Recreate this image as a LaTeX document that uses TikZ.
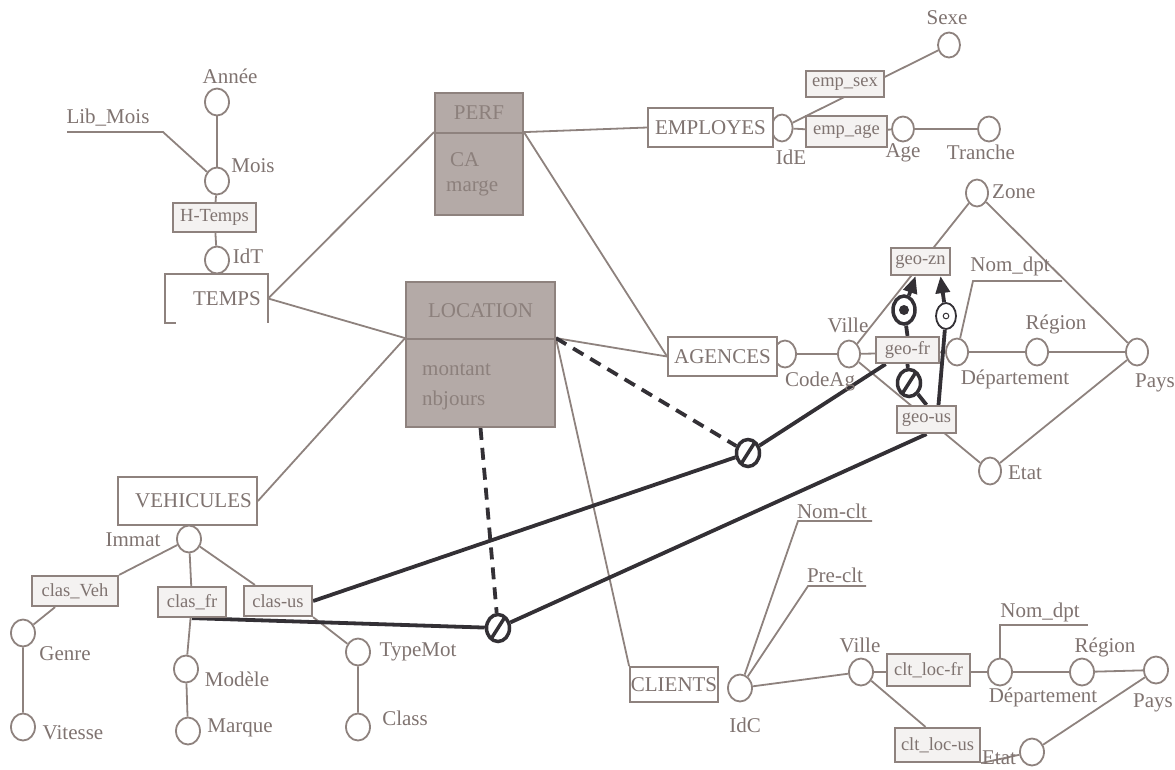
\documentclass[tikz,border=0pt]{standalone}
\usepackage{fontspec}
\setmainfont{Liberation Serif}
\usetikzlibrary{arrows.meta, backgrounds, shapes.geometric}
\definecolor{trait}{HTML}{8E827E}
\definecolor{texte}{HTML}{7F7370}
\definecolor{fait}{HTML}{B4AAA7}
\definecolor{faittxt}{HTML}{8C807C}
\definecolor{hier}{HTML}{F4F2F1}
\definecolor{fonce}{HTML}{333035}

\begin{document}
\begin{tikzpicture}[x=1pt, y=-1pt,
  every node/.style={font=\fontsize{21}{24}\selectfont, text=texte, inner sep=0pt},
  dim/.style={draw=trait, line width=1.8pt, fill=white},
  fact/.style={draw=trait, line width=1.8pt, fill=fait, text=faittxt},
  attr/.style={ellipse, draw=trait, line width=1.8pt, fill=white, minimum width=24pt, minimum height=27pt},
  hbox/.style={draw=trait, line width=2.2pt, fill=hier, font=\fontsize{18.5}{20}\selectfont},
  lien/.style={trait, line width=1.8pt},
  contr/.style={fonce, line width=3.8pt},
  pointille/.style={contr, dash pattern=on 12pt off 8pt},
  fleche/.style={contr, -{Triangle[length=17pt, width=14pt]}},
  excl/.style={ellipse, draw=fonce, line width=3.5pt, fill=white, minimum width=23pt, minimum height=27pt,
    path picture={\draw[fonce, line width=3.5pt] ([xshift=-7pt,yshift=-11pt]path picture bounding box.center) -- ([xshift=7pt,yshift=11pt]path picture bounding box.center);}},
  incl/.style={ellipse, draw=fonce, line width=3.5pt, fill=white, minimum width=22pt, minimum height=28pt,
    path picture={\fill[fonce] (path picture bounding box.center) circle[radius=5pt];}},
  simul/.style={ellipse, draw=fonce, line width=1.8pt, fill=white, minimum width=20pt, minimum height=26pt,
    path picture={\draw[fonce, line width=1pt] (path picture bounding box.center) circle[radius=2.8pt];}}]
  \useasboundingbox (0,0) rectangle (1175,769);

  % TEMPS
  \node[attr] (annee) at (217,102) {};
  \node[attr] (mois) at (217,181) {};
  \node[hbox, minimum width=83pt, minimum height=29pt] (htemps) at (214.5,217.5) {H-Temps};
  \node[attr] (idt) at (217,260) {};
  \node[minimum width=103pt, minimum height=49pt] (temps) at (216.5,298.5) {\hspace{21pt}TEMPS};
  \draw[lien, line width=2pt] ([xshift=11pt]temps.south west) -- (temps.south west) -- (temps.north west)
    -- (temps.north east) -- (temps.south east);
  \node (lannee) at (230,76) {Année};
  \node (lmois) at (253,166) {Mois};
  \node (llibmois) at (108,118) {Lib\_Mois};
  \node (lidt) at (248,256) {IdT};
  \coordinate (libmoisA) at (67,132);
  \coordinate (libmoisB) at (163,132);

  % faits
  \node[fact, minimum width=88pt, minimum height=40pt] (perfh) at (479,113) {PERF};
  \node[fact, minimum width=88pt, minimum height=82pt] (perfb) at (479,174) {};
  \node[text=faittxt, anchor=west] (lca) at (450,160) {CA};
  \node[text=faittxt, anchor=west] (lmarge) at (446,188) {marge};
  \node[fact, minimum width=149pt, minimum height=57pt] (loch) at (480.5,310.5) {LOCATION};
  \node[fact, minimum width=149pt, minimum height=88pt] (locb) at (480.5,383) {};
  \node[text=faittxt, anchor=west] (lmontant) at (422,370) {montant};
  \node[text=faittxt, anchor=west] (lnbjours) at (422,400) {nbjours};

  % EMPLOYES
  \node[attr, minimum width=21pt] (ide) at (782,128) {};
  \node[dim, minimum width=125pt, minimum height=39pt] (emp) at (710.5,127.5) {EMPLOYES};
  \node[hbox, minimum width=81pt, minimum height=31pt] (empage) at (846.5,131.5) {emp\_age};
  \node[hbox, minimum width=78pt, minimum height=26pt] (empsex) at (845,84) {emp\_sex};
  \node[attr, minimum width=22pt, minimum height=25pt] (age) at (903,129) {};
  \node[attr, minimum width=22pt, minimum height=25pt] (tranche) at (989,129) {};
  \node[attr, minimum width=22pt, minimum height=25pt] (sexe) at (949,45) {};
  \node (lsexe) at (947,18) {Sexe};
  \node (lide) at (791,157) {IdE};
  \node (lage) at (903,153) {Age};
  \node (ltranche) at (981,152) {Tranche};

  % AGENCES
  \node[attr, minimum width=22pt] (codeag) at (785,354) {};
  \node[dim, minimum width=109pt, minimum height=39pt] (ag) at (722.5,356.5) {AGENCES};
  \node[attr, minimum width=22pt] (ville) at (849,354) {};
  \node[hbox, minimum width=63pt, minimum height=26pt] (geofr) at (907.5,350) {geo-fr};
  \node[hbox, minimum width=59pt, minimum height=27pt] (geozn) at (920.5,261.5) {geo-zn};
  \node[hbox, minimum width=59pt, minimum height=27pt] (geous) at (926.5,419.5) {geo-us};
  \node[attr, minimum width=22pt] (dept) at (957,352) {};
  \node[attr, minimum width=22pt] (region) at (1037,352) {};
  \node[attr, minimum width=22pt] (pays) at (1137,352) {};
  \node[attr, minimum width=22pt] (zone) at (977,193) {};
  \node[attr, minimum width=22pt] (etat) at (990,471) {};
  \node[anchor=west] (lzone) at (992,192) {Zone};
  \node (lnomdpt) at (1010,266) {Nom\_dpt};
  \node (lville) at (848,325) {Ville};
  \node (lcodeag) at (820,381) {CodeAg};
  \node (ldept) at (1015,379) {Département};
  \node (lregion) at (1056,324) {Région};
  \node (lpays) at (1155,383) {Pays};
  \node (letat) at (1025,473) {Etat};
  \coordinate (nomdptA) at (973,281);
  \coordinate (nomdptB) at (1062,281);

  % VEHICULES
  \node[dim, minimum width=139pt, minimum height=48pt] (veh) at (187.5,501) {\hspace{12pt}VEHICULES};
  \node[attr] (immat) at (189,539) {};
  \node[hbox, minimum width=86pt, minimum height=30pt] (clasveh) at (75,591) {clas\_Veh};
  \node[hbox, minimum width=68pt, minimum height=30pt] (clasfr) at (192,602) {clas\_fr};
  \node[hbox, minimum width=68pt, minimum height=30pt] (clasus) at (278,601) {clas-us};
  \node[attr] (genre) at (23,633) {};
  \node[attr] (vitesse) at (23,727) {};
  \node[attr] (modele) at (186,669) {};
  \node[attr] (marque) at (188,731) {};
  \node[attr] (typemot) at (358,652) {};
  \node[attr] (class) at (358,727) {};
  \node (limmat) at (133,540) {Immat};
  \node (lgenre) at (65,654) {Genre};
  \node (lvitesse) at (73,733) {Vitesse};
  \node (lmodele) at (237,679) {Modèle};
  \node (lmarque) at (240,728) {Marque};
  \node (ltypemot) at (418,652) {TypeMot};
  \node (lclass) at (405,718) {Class};

  % CLIENTS
  \node[dim, minimum width=88pt, minimum height=35pt] (cli) at (674,684.5) {CLIENTS};
  \node[attr] (idc) at (740,688) {};
  \node[attr] (ville2) at (861,672) {};
  \node[hbox, minimum width=83pt, minimum height=32pt] (cltfr) at (928.5,670) {clt\_loc-fr};
  \node[hbox, minimum width=85pt, minimum height=34pt] (cltus) at (937.5,745) {clt\_loc-us};
  \node[attr] (dept2) at (1000,672) {};
  \node[attr] (region2) at (1082,672) {};
  \node[attr] (pays2) at (1156,670) {};
  \node[attr] (etat2) at (1032,752) {};
  \node (lnomclt) at (832,511) {Nom-clt};
  \node (lpreclt) at (835,575) {Pre-clt};
  \node (lidc) at (745,725) {IdC};
  \node (lville2) at (860,645) {Ville};
  \node (lnomdpt2) at (1040,612) {Nom\_dpt};
  \node (ldept2) at (1043,697) {Département};
  \node (lregion2) at (1105,647) {Région};
  \node (lpays2) at (1153,703) {Pays};
  \node (letat2) at (999,758) {Etat};
  \coordinate (nomcltA) at (798,521);
  \coordinate (nomcltB) at (872,521);
  \coordinate (precltA) at (808,586);
  \coordinate (precltB) at (866,586);
  \coordinate (nomdpt2A) at (1000,625);
  \coordinate (nomdpt2B) at (1088,625);

  % contraintes
  \node[incl] (incfr) at (904,310) {};
  \node[simul] (incus) at (946,316) {};
  \node[excl] (exfrus) at (909,383) {};
  \node[excl] (exag) at (748,453) {};
  \node[excl] (exloc) at (498,628) {};

  \begin{scope}[on background layer]
    \draw[lien] (annee) -- (mois);
    \draw[lien] (mois) -- (htemps) -- (idt);
    \draw[lien] (libmoisA) -- (libmoisB) -- (mois);
    \draw[lien] (temps.east) -- (perfb.north west);
    \draw[lien] (temps.east) -- (locb.north west);
    \draw[lien] (veh.east) -- (locb.north west);
    \draw[lien] (perfb.north east) -- (emp.west);
    \draw[lien] (perfb.north east) -- (ag.west);
    \draw[lien] (locb.north east) -- (ag.west);
    \draw[lien] (locb.north east) -- (cli.north west);
    % employes
    \draw[lien] (ide) -- (empage) -- (age) -- (tranche);
    \draw[lien] (ide) -- (sexe);
    % agences
    \draw[lien] (codeag) -- (ville);
    \draw[lien] (ville) -- (zone);
    \draw[lien] (ville) -- (dept) -- (region) -- (pays);
    \draw[lien] (ville) -- (etat);
    \draw[lien] (zone) -- (pays);
    \draw[lien] (etat) -- (pays);
    \draw[lien] (dept) -- (nomdptA) -- (nomdptB);
    % vehicules
    \draw[lien] (immat) -- (clasveh.north east);
    \draw[lien] (immat) -- (clasfr);
    \draw[lien] (immat) -- (clasus);
    \draw[lien] (clasveh) -- (genre) -- (vitesse);
    \draw[lien] (clasfr) -- (modele) -- (marque);
    \draw[lien] (clasus.south east) -- (typemot) -- (class);
    % clients
    \draw[lien] (idc) -- (nomcltA) -- (nomcltB);
    \draw[lien] (idc) -- (precltA) -- (precltB);
    \draw[lien] (idc) -- (ville2);
    \draw[lien] (ville2) -- (dept2) -- (region2) -- (pays2);
    \draw[lien] (ville2) -- ([xshift=-12pt]cltus.north);
    \draw[lien] (cltus.south east) -- (etat2) -- (pays2);
    \draw[lien] (dept2) -- (nomdpt2A) -- (nomdpt2B);
    % contraintes
    \draw[contr] (clasus.east) -- (exag) -- (geofr);
    \draw[pointille] (locb.north east) -- (exag);
    \draw[contr] (clasfr.south) -- (exloc) -- (geous.south);
    \draw[pointille] (locb.south) -- (exloc);
    \draw[contr] (geous.north) -- (exfrus) -- (geofr.south);
    \draw[contr] (geofr.north) -- (incfr);
    \draw[contr] ([xshift=12pt]geous.north) -- (incus);
  \end{scope}
  \draw[fleche] (incfr) -- (geozn);
  \draw[fleche] (incus) -- ([xshift=20pt]geozn.south);
\end{tikzpicture}
\end{document}
